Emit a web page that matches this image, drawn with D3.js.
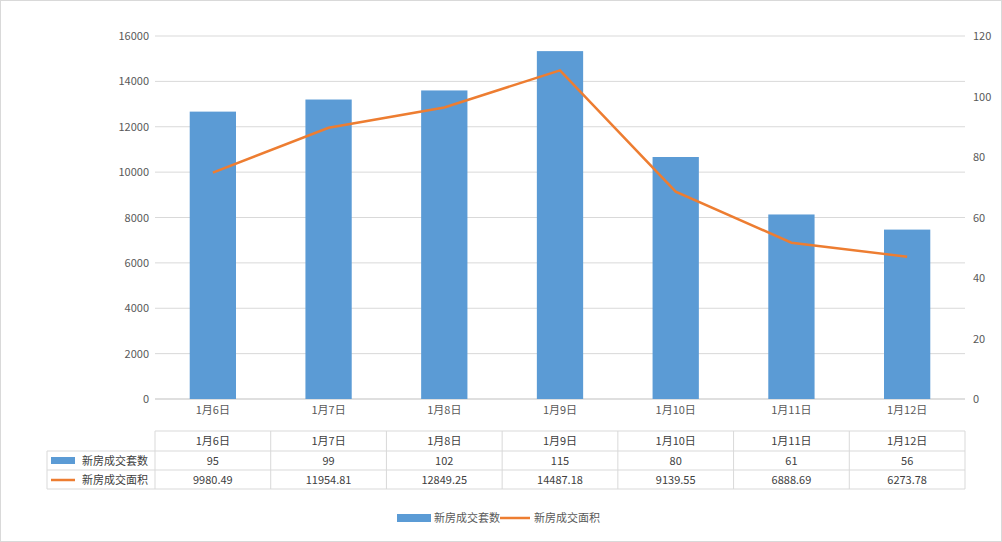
<!DOCTYPE html>
<html><head><meta charset="utf-8">
<script src="https://cdn.jsdelivr.net/npm/d3@7"></script>
<style>body{margin:0;background:#fff;font-family:"Noto Sans CJK SC","DejaVu Sans",sans-serif;}</style>
</head><body><svg id="c" width="1002" height="542"></svg>
<script>
const categories = ['1月6日','1月7日','1月8日','1月9日','1月10日','1月11日','1月12日'];
const countValues = [95, 99, 102, 115, 80, 61, 56];
const areaValues = [9980.49, 11954.81, 12849.25, 14487.18, 9139.55, 6888.69, 6273.78];
const areaLabels = ['9980.49','11954.81','12849.25','14487.18','9139.55','6888.69','6273.78'];
const seriesNames = ['新房成交套数', '新房成交面积'];
const leftTicks = [0,2000,4000,6000,8000,10000,12000,14000,16000];
const rightTicks = [0,20,40,60,80,100,120];

const svg = d3.select('#c');
const L = 155, R = 965, T = 36, B = 399;
const font = '"Noto Sans CJK SC", sans-serif';

svg.append('rect').attr('x',0.5).attr('y',0.5).attr('width',1001).attr('height',541)
	.attr('fill','#fff').attr('stroke','#d9d9d9');

const x = d3.scaleBand().domain(categories).range([L, R]).paddingInner(0.6).paddingOuter(0.3);
const xc = d3.scaleBand().domain(categories).range([L, R]);
const yL = d3.scaleLinear().domain([0,16000]).range([B, T]);
const yR = d3.scaleLinear().domain([0,120]).range([B, T]);

svg.append('g').selectAll('line').data(leftTicks).join('line')
	.attr('x1', L).attr('x2', R).attr('y1', d => yL(d)).attr('y2', d => yL(d))
	.attr('stroke', d => d === 0 ? '#bfbfbf' : '#d9d9d9');

svg.append('g').selectAll('text').data(leftTicks).join('text')
	.attr('x', L - 6).attr('y', d => yL(d) + 4).attr('text-anchor','end')
	.attr('font-size', 11).attr('fill','#595959').attr('font-family', font).text(d => d);

svg.append('g').selectAll('text').data(rightTicks).join('text')
	.attr('x', R + 8).attr('y', d => yR(d) + 4)
	.attr('font-size', 11).attr('fill','#595959').attr('font-family', font).text(d => d);

svg.append('g').selectAll('rect').data(countValues).join('rect')
	.attr('x', (d, i) => x(categories[i])).attr('width', x.bandwidth())
	.attr('y', d => yR(d)).attr('height', d => B - yR(d)).attr('fill', '#5b9bd5');

svg.append('path').datum(areaValues)
	.attr('fill','none').attr('stroke','#ed7d31').attr('stroke-width', 2.5)
	.attr('d', d3.line().x((d, i) => xc(categories[i]) + xc.bandwidth()/2).y(d => yL(d)));

svg.append('g').selectAll('text').data(categories).join('text')
	.attr('x', d => xc(d) + xc.bandwidth()/2).attr('y', 414).attr('text-anchor','middle')
	.attr('font-size', 11).attr('fill','#595959').attr('font-family', font).text(d => d);

// data table
const rows = [431, 451, 470, 489];
const tbl = svg.append('g').attr('stroke','#d9d9d9');
tbl.append('line').attr('x1', L).attr('x2', R).attr('y1', rows[0]).attr('y2', rows[0]);
rows.slice(1).forEach(y => tbl.append('line').attr('x1', 47).attr('x2', R).attr('y1', y).attr('y2', y));
tbl.append('line').attr('x1', 47).attr('x2', 47).attr('y1', rows[1]).attr('y2', rows[3]);
categories.forEach(c => tbl.append('line').attr('x1', xc(c)).attr('x2', xc(c)).attr('y1', rows[0]).attr('y2', rows[3]));
tbl.append('line').attr('x1', R).attr('x2', R).attr('y1', rows[0]).attr('y2', rows[3]);

const cellRows = [categories, countValues, areaLabels];
cellRows.forEach((vals, r) => {
	svg.append('g').selectAll('text').data(vals).join('text')
		.attr('x', (d, i) => xc(categories[i]) + xc.bandwidth()/2)
		.attr('y', (rows[r] + rows[r+1]) / 2 + 4).attr('text-anchor','middle')
		.attr('font-size', 11).attr('fill','#404040').attr('font-family', font).text(d => d);
});
svg.append('rect').attr('x', 51).attr('y', 457).attr('width', 24).attr('height', 7).attr('fill','#5b9bd5');
svg.append('line').attr('x1', 51).attr('x2', 75).attr('y1', 480).attr('y2', 480).attr('stroke','#ed7d31').attr('stroke-width', 2.5);
seriesNames.forEach((n, i) => svg.append('text').attr('x', 82).attr('y', 465 + i * 19)
	.attr('font-size', 11).attr('fill','#404040').attr('font-family', font).text(n));

// legend
svg.append('rect').attr('x', 397).attr('y', 514).attr('width', 34).attr('height', 8).attr('fill','#5b9bd5');
svg.append('text').attr('x', 434).attr('y', 522).attr('font-size', 11).attr('fill','#595959').attr('font-family', font).text(seriesNames[0]);
svg.append('line').attr('x1', 500).attr('x2', 530).attr('y1', 518).attr('y2', 518).attr('stroke','#ed7d31').attr('stroke-width', 2.5);
svg.append('text').attr('x', 534).attr('y', 522).attr('font-size', 11).attr('fill','#595959').attr('font-family', font).text(seriesNames[1]);
</script></body></html>
